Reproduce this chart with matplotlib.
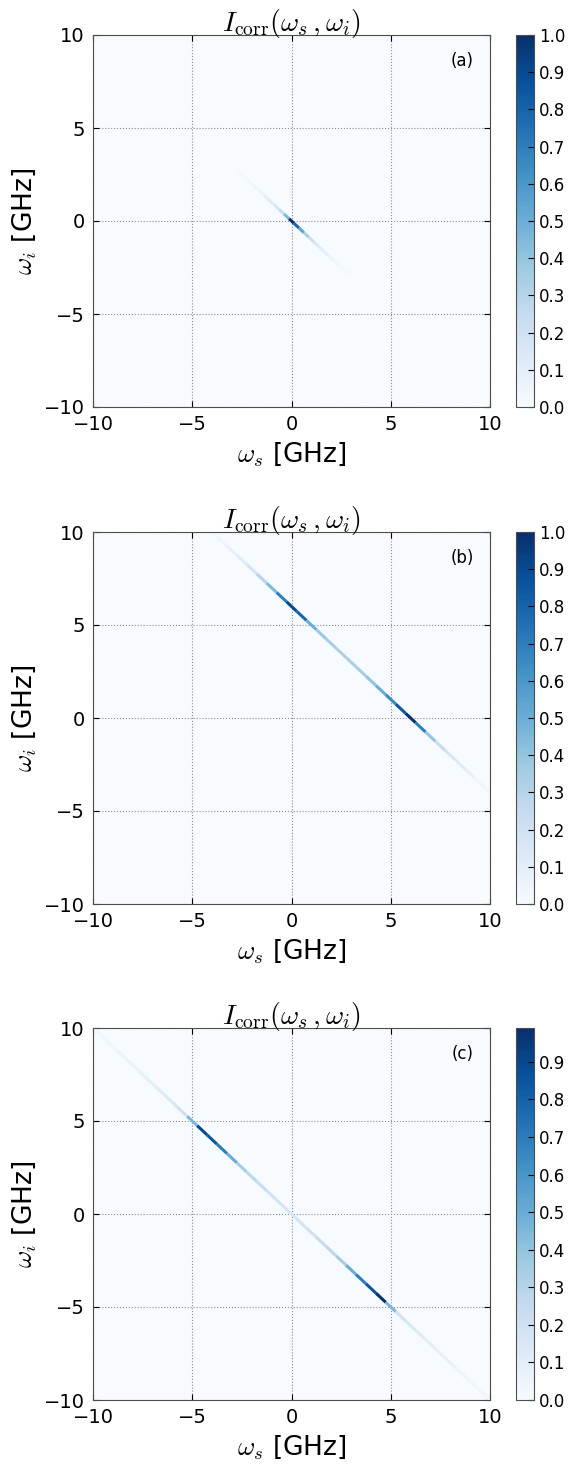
import numpy as np
import matplotlib
matplotlib.use('Agg')
import matplotlib.pyplot as plt
from matplotlib.collections import LineCollection
from matplotlib.colors import Normalize
import matplotlib.cm as cm

plt.rcParams['mathtext.fontset'] = 'cm'
plt.rcParams['font.family'] = 'DejaVu Sans'
plt.rcParams['xtick.direction'] = 'in'
plt.rcParams['ytick.direction'] = 'in'

# intensity along the line ws + wi = const, sampled in ws (GHz)
ws_a = np.arange(-3.0, 3.01, 0.25)
I_a = [0.0, 0.01, 0.02, 0.03, 0.04, 0.05, 0.07, 0.09, 0.12, 0.16, 0.24, 0.45, 1.0,
       0.8, 0.55, 0.35, 0.22, 0.15, 0.11, 0.08, 0.06, 0.04, 0.03, 0.015, 0.0]
sum_a = 0.0

ws_b = np.arange(-4.0, 10.01, 0.5)
I_b = [0.02, 0.05, 0.08, 0.12, 0.18, 0.3, 0.45, 0.7, 0.9, 0.8, 0.5, 0.38, 0.35, 0.33,
       0.33, 0.35, 0.4, 0.5, 0.65, 0.85, 1.0, 0.7, 0.4, 0.25, 0.17, 0.12, 0.08, 0.05, 0.03]
sum_b = 6.0

ws_c = np.arange(-10.0, 10.01, 0.5)
I_c = [0.03, 0.04, 0.05, 0.06, 0.07, 0.08, 0.1, 0.12, 0.15, 0.2, 0.45, 0.9, 0.85, 0.7,
       0.5, 0.35, 0.28, 0.24, 0.2, 0.18, 0.17, 0.18, 0.2, 0.24, 0.28, 0.35, 0.5, 0.7,
       0.85, 0.99, 0.45, 0.2, 0.15, 0.12, 0.1, 0.08, 0.07, 0.06, 0.05, 0.04, 0.03]
sum_c = 0.0

panels = [(ws_a, I_a, sum_a, 1.0, '(a)', 35),
          (ws_b, I_b, sum_b, 1.0, '(b)', 532),
          (ws_c, I_c, sum_c, 0.99, '(c)', 1028)]

W, H = 574, 1464
fig = plt.figure(figsize=(W / 100, H / 100), dpi=100)
cmap = plt.get_cmap('Blues')

for ws, I, s, vmax, tag, top in panels:
    ax = fig.add_axes([93 / W, 1 - (top + 372) / H, 397 / W, 372 / H])
    cax = fig.add_axes([516 / W, 1 - (top + 372) / H, 18 / W, 372 / H])
    norm = Normalize(0, vmax)
    ax.set_facecolor(cmap(0.0))
    ws = np.asarray(ws)
    I = np.asarray(I)
    # one short segment per sample, centred on it
    h = (ws[1] - ws[0]) / 2
    segs = [[(x - h, s - (x - h)), (x + h, s - (x + h))] for x in ws]
    lc = LineCollection(segs, cmap=cmap, norm=norm, linewidths=2.2, capstyle='butt')
    lc.set_array(I)
    ax.add_collection(lc)
    ax.set_xlim(-10, 10)
    ax.set_ylim(-10, 10)
    ax.set_xticks([-10, -5, 0, 5, 10])
    ax.set_yticks([-10, -5, 0, 5, 10])
    ax.tick_params(labelsize=14, top=True, right=True, length=4, width=0.8, pad=6)
    ax.grid(True, color='0.55', linestyle=':', linewidth=0.8)
    for sp in ax.spines.values():
        sp.set_color('0.3')
    ax.set_xlabel(r'$\omega_s$ [GHz]', fontsize=19, labelpad=4)
    ax.set_ylabel(r'$\omega_i$ [GHz]', fontsize=19, labelpad=4)
    ax.set_title(r'$I_{\rm corr}(\omega_s\,,\omega_i)$', fontsize=20, pad=3)
    ax.text(0.96, 0.955, tag, transform=ax.transAxes, ha='right', va='top', fontsize=12)

    sm = cm.ScalarMappable(norm=norm, cmap=cmap)
    cb = fig.colorbar(sm, cax=cax)
    cb.set_ticks(np.arange(0, vmax + 0.001, 0.1))
    cb.ax.tick_params(labelsize=12, direction='in', length=4, width=0.8)
    cb.outline.set_edgecolor('0.3')

fig.savefig('out.png', dpi=100)
